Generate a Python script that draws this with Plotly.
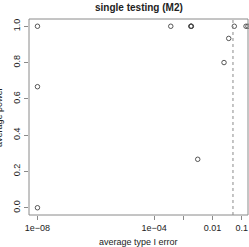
import plotly.graph_objects as go

# data
type1_error = [1e-8, 1e-8, 1e-8, 3.7e-4, 1.8e-3, 1.84e-3, 1.88e-3, 3.1e-3, 0.0247, 0.0358, 0.0556, 0.14, 0.163]
avg_power = [1.0, 0.667, 0.0, 1.0, 1.0, 1.0, 1.0, 0.267, 0.8, 0.933, 1.0, 1.0, 1.0]
alpha_level = 0.05
x_tick_vals = [1e-8, 1e-4, 1e-3, 0.01, 0.1]
x_tick_text = ["1e\u221208", "1e\u221204", "", "0.01", "0.1"]
y_tick_vals = [0.0, 0.2, 0.4, 0.6, 0.8, 1.0]
y_tick_text = ["0.0", "0.2", "0.4", "0.6", "0.8", "1.0"]

FONT = "Liberation Sans, Arial, Helvetica, sans-serif"
TXT = "#222222"
BOX = "#8a8a8a"

fig = go.Figure()
fig.add_trace(go.Scatter(
    x=type1_error, y=avg_power, mode="markers",
    marker=dict(symbol="circle-open", size=4.5, color="#444444", line=dict(width=0.9, color="#444444")),
    cliponaxis=False, showlegend=False, hoverinfo="skip"))

fig.add_shape(type="line", xref="x", yref="paper", x0=alpha_level, x1=alpha_level, y0=0, y1=1,
              line=dict(color="#8a8a8a", width=1, dash="dot"))
fig.add_shape(type="rect", xref="paper", yref="paper", x0=0, x1=1, y0=0, y1=1,
              line=dict(color=BOX, width=1), fillcolor="rgba(0,0,0,0)")

fig.update_layout(
    width=249, height=247,
    margin=dict(l=29, r=1, t=19, b=32, autoexpand=False),
    plot_bgcolor="white", paper_bgcolor="white",
    font=dict(family=FONT, size=9, color=TXT),
    xaxis=dict(type="log", range=[-8.29, -0.786], showgrid=False, zeroline=False, showline=False,
               automargin=False,
               tickmode="array", tickvals=x_tick_vals, ticktext=x_tick_text,
               ticks="outside", ticklen=4, tickcolor=BOX, tickwidth=1,
               tickfont=dict(family=FONT, size=9, color=TXT)),
    yaxis=dict(range=[-0.04, 1.04], showgrid=False, zeroline=False, showline=False,
               automargin=False,
               tickmode="array", tickvals=y_tick_vals, ticktext=y_tick_text, tickangle=-90,
               ticks="outside", ticklen=4, tickcolor=BOX, tickwidth=1,
               tickfont=dict(family=FONT, size=9, color=TXT)),
    annotations=[
        dict(text="<b>single testing (M2)</b>", xref="paper", yref="paper", x=0.5, y=1,
             xanchor="center", yanchor="middle", yshift=12, showarrow=False,
             font=dict(family=FONT, size=10, color=TXT)),
        dict(text="average type I error", xref="paper", yref="paper", x=0.5, y=0,
             xanchor="center", yanchor="middle", yshift=-27, showarrow=False,
             font=dict(family=FONT, size=9, color=TXT)),
        dict(text="average power", xref="paper", yref="paper", x=0, y=0.5,
             xanchor="center", yanchor="middle", xshift=-30, textangle=-90, showarrow=False,
             font=dict(family=FONT, size=9, color=TXT)),
    ],
)

fig.write_html("out.html", config={"displayModeBar": False},
               post_script="document.body.style.margin='0';document.body.style.overflow='hidden';")
